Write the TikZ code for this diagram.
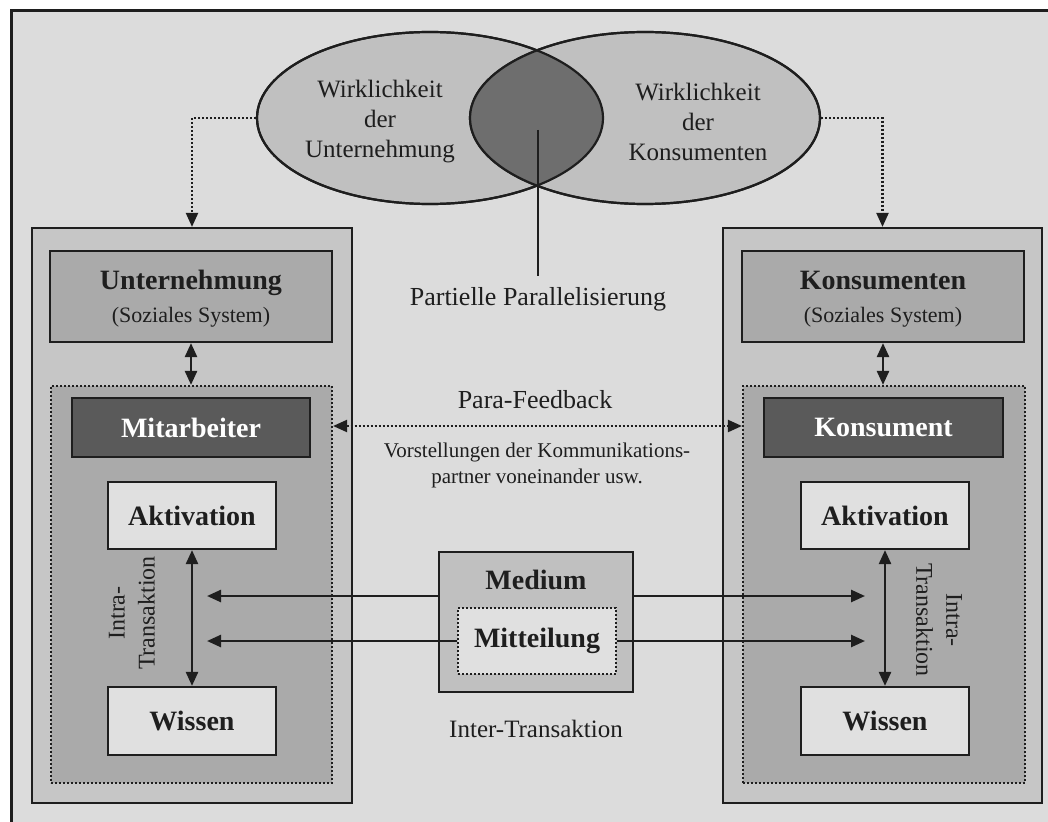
\documentclass[tikz,border=0pt]{standalone}
\usepackage{fontspec}
\setmainfont{Liberation Serif}
\usetikzlibrary{arrows.meta,shapes.geometric}

\definecolor{paper}{HTML}{DCDCDC}
\definecolor{ink}{HTML}{1E1E1E}
\definecolor{outerfill}{HTML}{C6C6C6}
\definecolor{midfill}{HTML}{AAAAAA}
\definecolor{darkfill}{HTML}{5A5A5A}
\definecolor{lightfill}{HTML}{E0E0E0}
\definecolor{ovalfill}{HTML}{C0C0C0}
\definecolor{lensfill}{HTML}{6E6E6E}

\tikzset{
  box/.style={draw=ink, line width=2.2pt, rectangle, inner sep=0pt},
  dotbox/.style={draw=ink, line width=2.2pt, rectangle, inner sep=0pt, dash pattern=on 2pt off 2pt},
  oval/.style={draw=ink, line width=2.2pt, ellipse, inner sep=0pt},
  head/.style={font=\fontsize{28}{32}\selectfont\bfseries, text=ink},
  sub/.style={font=\fontsize{22}{26}\selectfont, text=ink},
  plain/.style={font=\fontsize{25}{30}\selectfont, text=ink, align=center},
  tip/.tip={Triangle[length=14pt,width=12pt]},
  arr/.style={draw=ink, line width=2.5pt, -tip},
  dblarr/.style={draw=ink, line width=2.5pt, tip-tip},
  dotarr/.style={draw=ink, line width=2.2pt, dash pattern=on 2pt off 2pt, -tip},
  dotdbl/.style={draw=ink, line width=2.2pt, dash pattern=on 2pt off 2pt, tip-tip},
}

\begin{document}
\begin{tikzpicture}[x=1pt,y=-1pt]
\useasboundingbox (0,0) rectangle (1048,821);
\fill[white] (0,0) rectangle (1048,821);
% outer frame (runs past the right and bottom edges)
\draw[draw=ink, line width=3pt, fill=paper] (11,11) rectangle (1070,850);

% the two realities and their overlap
\node[oval, fill=ovalfill, minimum width=346pt, minimum height=172pt] (eU) at (430,118) {};
\node[oval, fill=ovalfill, minimum width=350pt, minimum height=172pt] (eK) at (645,118) {};
\begin{scope}
  \clip (430,118) ellipse [x radius=173pt, y radius=86pt];
  \fill[lensfill] (645,118) ellipse [x radius=175pt, y radius=86pt];
\end{scope}
\draw[ink, line width=2.2pt] (430,118) ellipse [x radius=173pt, y radius=86pt];
\draw[ink, line width=2.2pt] (645,118) ellipse [x radius=175pt, y radius=86pt];
\node[plain] (tU) at (380,122) {Wirklichkeit\\der\\Unternehmung};
\node[plain] (tK) at (698,122) {Wirklichkeit\\der\\Konsumenten};
\coordinate (lens) at (538,130);

% left column: company
\node[box, fill=outerfill, minimum width=320pt, minimum height=575pt] (boxL) at (192,515.5) {};
\node[box, fill=midfill, minimum width=282pt, minimum height=91pt] (uL) at (191,296.5) {};
\node[head, anchor=base] (uLh) at (191,289) {Unternehmung};
\node[sub, anchor=base] (uLs) at (191,322) {(Soziales System)};
\node[dotbox, fill=midfill, minimum width=281pt, minimum height=397pt] (dL) at (191.5,584.5) {};
\node[box, fill=darkfill, minimum width=238pt, minimum height=59pt, head, text=white] (mL) at (191,427.5) {Mitarbeiter};
\node[box, fill=lightfill, minimum width=168pt, minimum height=67pt, head] (aL) at (192,515.5) {Aktivation};
\node[box, fill=lightfill, minimum width=168pt, minimum height=68pt, head] (wL) at (192,721) {Wissen};
\node[plain, font=\fontsize{24}{30}\selectfont, rotate=90] (iL) at (132,613) {Intra-\\Transaktion};

% right column: consumers
\node[box, fill=outerfill, minimum width=319pt, minimum height=575pt] (boxR) at (882.5,515.5) {};
\node[box, fill=midfill, minimum width=282pt, minimum height=91pt] (uR) at (883,296.5) {};
\node[head, anchor=base] (uRh) at (883,289) {Konsumenten};
\node[sub, anchor=base] (uRs) at (883,322) {(Soziales System)};
\node[dotbox, fill=midfill, minimum width=282pt, minimum height=397pt] (dR) at (884,584.5) {};
\node[box, fill=darkfill, minimum width=239pt, minimum height=59pt, head, text=white] (mR) at (883.5,427.5) {Konsument};
\node[box, fill=lightfill, minimum width=168pt, minimum height=67pt, head] (aR) at (885,515.5) {Aktivation};
\node[box, fill=lightfill, minimum width=168pt, minimum height=68pt, head] (wR) at (885,721) {Wissen};
\node[plain, font=\fontsize{24}{30}\selectfont, rotate=-90] (iR) at (939,620) {Intra-\\Transaktion};

% medium in the middle
\node[box, fill=ovalfill, minimum width=194pt, minimum height=140pt] (med) at (536,622) {};
\node[head] (medt) at (536,580) {Medium};
\node[dotbox, fill=lightfill, minimum width=158pt, minimum height=66pt, head] (mit) at (537,641) {Mitteilung};

% free texts
\node[plain, font=\fontsize{26}{30}\selectfont, anchor=base, inner sep=0pt] (pp) at (538,305) {Partielle Parallelisierung};
\node[plain, font=\fontsize{26}{30}\selectfont] (pf) at (535,400) {Para-Feedback};
\node[plain, font=\fontsize{21}{26}\selectfont] (vk) at (537,465) {Vorstellungen der Kommunikations-\\partner voneinander usw.};
\node[plain] (it) at (536,729) {Inter-Transaktion};

% connectors
\draw[ink, line width=2.2pt] (lens) -- ([yshift=11pt]pp.north);
\draw[dotarr] (eU.west) -| (boxL.north);
\draw[dotarr] (eK.east) -| (boxR.north);
\draw[dblarr] (uL.south) -- (uL.south |- dL.north);
\draw[dblarr] (uR.south) -- (uR.south |- dR.north);
\draw[dblarr] (aL.south) -- (wL.north);
\draw[dblarr] (aR.south) -- (wR.north);
\coordinate (pfy) at (0,426);
\draw[dotdbl] (dL.east |- pfy) -- (dR.west |- pfy);
\coordinate (tL1) at (207,596);
\coordinate (tL2) at (207,641);
\coordinate (tR1) at (865,596);
\coordinate (tR2) at (865,641);
\draw[arr] (med.west |- tL1) -- (tL1);
\draw[arr] (mit.west |- tL2) -- (tL2);
\draw[arr] (med.east |- tR1) -- (tR1);
\draw[arr] (mit.east |- tR2) -- (tR2);
\end{tikzpicture}
\end{document}
